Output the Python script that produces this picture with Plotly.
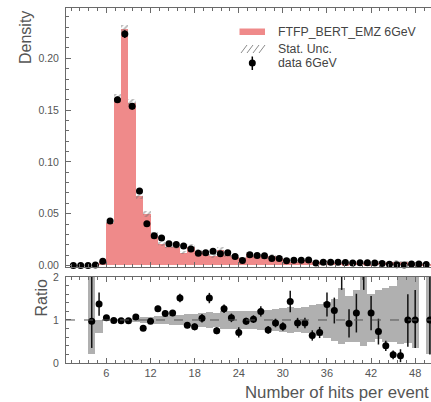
import plotly.graph_objects as go

# ---------------- data ----------------
bins = list(range(1, 51))  # bin lower edges, bins are [n, n+1)

data_density = [0.0, 0.0, 0.0, 0.0005, 0.004, 0.0429, 0.160, 0.2234, 0.1538, 0.0719,
                0.0403, 0.0287, 0.0264, 0.0210, 0.0203, 0.0187, 0.0158, 0.0119, 0.0122, 0.0138,
                0.0113, 0.0122, 0.0087, 0.0048, 0.0103, 0.0097, 0.0093, 0.0068, 0.0068, 0.0045,
                0.0050, 0.0050, 0.0052, 0.0023, 0.0030, 0.0032, 0.0030, 0.0029, 0.0023, 0.0025,
                0.0026, 0.0024, 0.0020, 0.0012, 0.0006, 0.0005, 0.0015, 0.0014, 0.0010, 0.0010]

data_err = [0.0, 0.0, 0.0, 0.0003, 0.0008, 0.0015, 0.003, 0.0038, 0.0031, 0.002,
            0.0015, 0.0013, 0.0012, 0.0011, 0.0011, 0.001, 0.0009, 0.0008, 0.0008, 0.0009,
            0.0008, 0.0008, 0.0007, 0.0005, 0.0007, 0.0007, 0.0007, 0.0006, 0.0006, 0.0005,
            0.0005, 0.0005, 0.0005, 0.0004, 0.0004, 0.0004, 0.0004, 0.0004, 0.0004, 0.0004,
            0.0004, 0.0004, 0.0004, 0.0003, 0.0002, 0.0002, 0.0003, 0.0003, 0.0003, 0.0003]

mc_density = [0.0, 0.0, 0.0, 0.0005, 0.0029, 0.0409, 0.1616, 0.228, 0.157, 0.0672,
              0.0498, 0.0296, 0.0210, 0.0183, 0.0175, 0.0124, 0.0180, 0.0142, 0.0117, 0.0091,
              0.0151, 0.0097, 0.0083, 0.0068, 0.0106, 0.0095, 0.0078, 0.0088, 0.0073, 0.0053,
              0.0035, 0.0054, 0.0056, 0.0036, 0.0042, 0.0024, 0.0025, 0.0013, 0.0025, 0.0022,
              0.0011, 0.0021, 0.0027, 0.0030, 0.0032, 0.0030, 0.0015, 0.0014, 0.0, 0.0010]

mc_err = [0.0, 0.0, 0.0, 0.0005, 0.001, 0.0012, 0.0035, 0.0045, 0.004, 0.0033,
          0.003, 0.0024, 0.002, 0.0018, 0.0019, 0.0015, 0.0023, 0.002, 0.0018, 0.0016,
          0.0024, 0.0019, 0.0017, 0.0014, 0.0021, 0.002, 0.0018, 0.0021, 0.0018, 0.0015,
          0.001, 0.0015, 0.0017, 0.0012, 0.0016, 0.001, 0.0012, 0.0008, 0.0012, 0.0012,
          0.0009, 0.0011, 0.0014, 0.0015, 0.0016, 0.0016, 0.0009, 0.0009, 0.0, 0.0009]

# ratio panel (data / MC), plotted at bin lower edge
ratio_x = list(range(4, 51))
ratio_val = [0.97, 1.37, 1.05, 0.99, 0.98, 0.98, 1.07, 0.81, 0.97, 1.26,
             1.15, 1.16, 1.51, 0.88, 0.84, 1.04, 1.51, 0.75, 1.26, 1.05,
             0.71, 0.97, 1.02, 1.20, 0.77, 0.93, 0.85, 1.43, 0.93, 0.93,
             0.64, 0.71, 1.36, 1.22, 2.30, 0.92, 1.16, 2.30, 1.16, 0.73,
             0.40, 0.19, 0.17, 1.00, 1.00, None, 1.00]
ratio_err_up = [1.1, 0.27, 0.04, 0.02, 0.02, 0.02, 0.04, 0.04, 0.05, 0.07,
                0.07, 0.07, 0.10, 0.07, 0.08, 0.10, 0.12, 0.08, 0.10, 0.10,
                0.12, 0.08, 0.09, 0.12, 0.09, 0.10, 0.10, 0.25, 0.12, 0.12,
                0.12, 0.13, 0.28, 0.30, 0.60, 0.33, 0.45, 0.60, 0.40, 0.30,
                0.12, 0.10, 0.15, 0.60, 0.70, 0.0, 1.10]
ratio_err_dn = [0.62, 0.27, 0.04, 0.02, 0.02, 0.02, 0.04, 0.04, 0.05, 0.07,
                0.07, 0.07, 0.10, 0.07, 0.08, 0.10, 0.12, 0.08, 0.10, 0.10,
                0.12, 0.08, 0.09, 0.12, 0.09, 0.10, 0.10, 0.25, 0.12, 0.12,
                0.12, 0.13, 0.28, 0.30, 0.60, 0.33, 0.45, 0.60, 0.40, 0.30,
                0.12, 0.10, 0.15, 0.62, 0.65, 0.0, 0.80]
band_lo = [0.20, 0.70, 0.97, 0.98, 0.98, 0.97, 0.95, 0.94, 0.92, 0.91,
           0.90, 0.89, 0.88, 0.87, 0.86, 0.84, 0.82, 0.84, 0.80, 0.79,
           0.80, 0.80, 0.79, 0.77, 0.76, 0.75, 0.72, 0.70, 0.72, 0.70,
           0.66, 0.62, 0.58, 0.52, 0.45, 0.50, 0.48, 0.40, 0.50, 0.55,
           0.50, 0.50, 0.45, 0.47, 0.35, None, 0.20]
band_hi = [2.10, 1.00, 1.03, 1.02, 1.02, 1.03, 1.05, 1.06, 1.08, 1.09,
           1.10, 1.11, 1.12, 1.13, 1.14, 1.16, 1.18, 1.16, 1.20, 1.21,
           1.20, 1.20, 1.21, 1.23, 1.24, 1.25, 1.28, 1.30, 1.28, 1.30,
           1.34, 1.38, 1.42, 1.48, 1.75, 1.55, 1.70, 2.10, 1.60, 1.70,
           1.75, 1.80, 2.10, 2.10, 2.10, None, 2.10]

x_ticks = [6, 12, 18, 24, 30, 36, 42, 48]
y_ticks = [0.0, 0.05, 0.10, 0.15, 0.20]
ratio_ticks = [0, 1, 2]

# ---------------- styling ----------------
RED = "#EF8A8A"
AXC = "#6a6a6a"
TXT = "#555555"
FONT = "Liberation Sans"

centers = [b + 0.5 for b in bins]

fig = go.Figure()

# MC histogram
fig.add_trace(go.Bar(x=centers, y=mc_density, width=1, marker=dict(color=RED, line=dict(width=0)),
                     xaxis="x", yaxis="y", name="FTFP_BERT_EMZ 6GeV"))
# stat. unc. hatch
fig.add_trace(go.Bar(x=centers, y=[2 * e for e in mc_err], base=[m - e for m, e in zip(mc_density, mc_err)],
                     width=1,
                     marker=dict(color="rgba(0,0,0,0)", line=dict(width=0),
                                 pattern=dict(shape="/", fgcolor="#6f6f6f", size=4, solidity=0.45,
                                              fillmode="overlay")),
                     xaxis="x", yaxis="y", name="Stat. Unc."))
# data
fig.add_trace(go.Scatter(x=centers, y=data_density, mode="markers",
                         marker=dict(color="black", size=7),
                         error_y=dict(type="data", array=data_err, color="black", thickness=1.5, width=0),
                         cliponaxis=False, xaxis="x", yaxis="y", name="data 6GeV"))

# ratio band
band_x = [x for x, l in zip(ratio_x, band_lo) if l is not None]
b_lo = [l for l in band_lo if l is not None]
b_hi = [h for h in band_hi if h is not None]
fig.add_trace(go.Bar(x=band_x, y=[h - l for h, l in zip(b_hi, b_lo)], base=b_lo, width=1,
                     marker=dict(color="#b0b0b0", line=dict(width=0)),
                     xaxis="x2", yaxis="y2"))
# ratio points
fig.add_trace(go.Scatter(x=ratio_x, y=ratio_val, mode="markers",
                         marker=dict(color="black", size=7),
                         error_y=dict(type="data", symmetric=False, array=ratio_err_up,
                                      arrayminus=ratio_err_dn, color="#111", thickness=1.5, width=0),
                         xaxis="x2", yaxis="y2"))

fig.add_shape(type="line", xref="x2 domain", yref="y2", x0=0, x1=1, y0=1, y1=1,
              line=dict(color="#555", width=1, dash="dash"), layer="above")

common_x = dict(range=[0.5, 50.15], tickvals=x_ticks, ticks="inside", ticklen=5, tickcolor=AXC,
                showline=True, linecolor=AXC, linewidth=1, mirror="allticks", showgrid=False,
                zeroline=False,
                minor=dict(ticks="inside", ticklen=3, dtick=1.2, tick0=0, tickcolor=AXC, showgrid=False),
                tickfont=dict(family=FONT, size=11, color=TXT))

fig.update_layout(
    width=431, height=402,
    margin=dict(l=66, r=0, t=8, b=39),
    plot_bgcolor="white", paper_bgcolor="white",
    showlegend=False, barmode="overlay", bargap=0,
    xaxis=dict(domain=[0, 1], anchor="y", showticklabels=False, **common_x),
    xaxis2=dict(domain=[0, 1], anchor="y2", matches="x", showticklabels=True, **common_x),
    yaxis=dict(domain=[0.2704, 1], anchor="x", range=[-0.0015, 0.2486], tickvals=y_ticks,
               tickformat=".2f", ticks="inside", ticklen=5, tickcolor=AXC, showline=True,
               linecolor=AXC, linewidth=1, showgrid=False, zeroline=False, ticklabelstandoff=4,
               minor=dict(ticks="inside", ticklen=3, dtick=0.01, tickcolor=AXC, showgrid=False),
               tickfont=dict(family=FONT, size=10.5, color=TXT)),
    yaxis2=dict(domain=[0, 0.2423], anchor="x2", range=[0, 2], tickvals=ratio_ticks,
                ticks="inside", ticklen=5, tickcolor=AXC, showline=True,
                linecolor=AXC, linewidth=1, showgrid=False, zeroline=False, ticklabelstandoff=4,
                minor=dict(ticks="inside", ticklen=3, dtick=0.2, tickcolor=AXC, showgrid=False),
                tickfont=dict(family=FONT, size=10.5, color=TXT)),
)

# axis titles
fig.add_annotation(text="Density", xref="paper", yref="paper", x=(25.5 - 66) / 365, y=(363 - 37.5) / 355,
                   textangle=-90, showarrow=False, xanchor="center", yanchor="middle",
                   font=dict(family=FONT, size=16, color=TXT))
fig.add_annotation(text="Ratio", xref="paper", yref="paper", x=(41 - 66) / 365, y=(363 - 298.5) / 355,
                   textangle=-90, showarrow=False, xanchor="center", yanchor="middle",
                   font=dict(family=FONT, size=16, color=TXT))
fig.add_annotation(text="Number of hits per event", xref="paper", yref="paper",
                   x=1.0, y=(363 - 393) / 355, showarrow=False,
                   xanchor="right", yanchor="middle",
                   font=dict(family=FONT, size=16.8, color=TXT))

# legend (manual)
def px_x(p):
    return (p - 66) / 365

def px_y(p):
    return (363 - p) / 355

fig.add_shape(type="rect", xref="paper", yref="paper", x0=px_x(239.5), x1=px_x(265),
              y0=px_y(35), y1=px_y(28.5), fillcolor=RED, line=dict(width=0))
for i in range(4):
    x0 = 241 + i * 6
    fig.add_shape(type="line", xref="paper", yref="paper", x0=px_x(x0), x1=px_x(x0 + 6),
                  y0=px_y(53), y1=px_y(45), line=dict(color="#8a8a8a", width=1))
fig.add_shape(type="line", xref="paper", yref="paper", x0=px_x(252.3), x1=px_x(252.3),
              y0=px_y(70), y1=px_y(56.5), line=dict(color="black", width=1.5))
fig.add_shape(type="circle", xref="paper", yref="paper", x0=px_x(248.8), x1=px_x(255.8),
              y0=px_y(66.5), y1=px_y(59.5), fillcolor="black", line=dict(width=0))

for txt, yy in [("FTFP_BERT_EMZ 6GeV", 32.3), ("Stat. Unc.", 49.3), ("data 6GeV", 63.3)]:
    fig.add_annotation(text=txt, xref="paper", yref="paper", x=px_x(275.5), y=px_y(yy),
                       showarrow=False, xanchor="left", yanchor="middle",
                       font=dict(family=FONT, size=12.3, color="#444"))

fig.write_html("out.html")
